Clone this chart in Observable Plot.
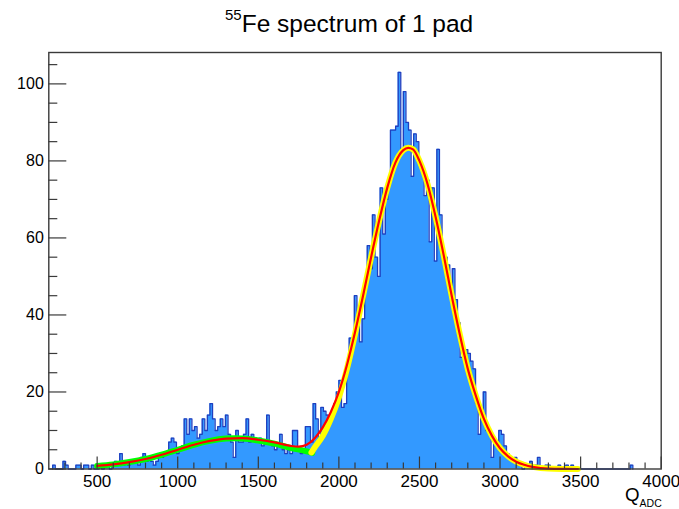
<!DOCTYPE html>
<html>
<head>
<meta charset="utf-8">
<script src="https://cdn.jsdelivr.net/npm/d3@7"></script>
<script src="https://cdn.jsdelivr.net/npm/@observablehq/plot@0.6"></script>
<style>
  html, body { margin: 0; padding: 0; background: #fff; }
  #chart { width: 679px; height: 509px; }
</style>
</head>
<body>
<div id="chart"></div>
<script>
// ---- Data ----
const titleMain = "Fe spectrum of 1 pad";
const titleSup = "55";
const xLabelMain = "Q";
const xLabelSub = "ADC";

// Histogram: bins of width 16 ADC counts, first bin starts at 224
const binWidth = 16;
const firstEdge = 224;
const counts = [
  1, 0, 0, 0, 2, 1, 0, 0, 0, 1, 1, 0, 1, 1, 0, 1, 0,          // 224 .. 480
  0, 1, 0, 1, 1, 0, 1, 2, 1, 4, 1, 2, 1, 2, 2, 2, 1, 3, 4, 2, 3, // 496 .. 816
  2, 1, 2, 3, 3, 4, 4, 7, 8, 7, 4, 5, 6,                        // 832 .. 1024
  13, 9, 13, 10, 11, 8, 9, 13, 10, 14, 17, 13, 10, 11, 13, 11, 14, 9, 7, 3, // 1040 .. 1344
  10, 7, 7, 9, 13, 7, 9, 8, 7, 8, 6, 7, 14, 7, 6, 5, 6, 9, 5, 4, // 1360 .. 1664
  5, 4, 10, 10, 5, 4, 5, 11, 11, 7, 17, 13, 8,                  // 1680 .. 1872
  16, 15, 14, 12, 15, 17, 20, 23, 16, 17, 27, 34, 34, 45, 40, 33, 39, 48, // 1888 .. 2160
  58, 52, 66, 55, 50, 73, 61, 70, 75, 88, 88, 89, 103, 83, 98, 90, 88, 76, // 2176 .. 2448
  87, 85, 80, 78, 71, 75, 59, 73, 54, 83, 66, 55, 55, 53, 47, 52, 44, 38, // 2464 .. 2736
  29, 31, 31, 30, 28, 26, 17, 9, 14, 20, 10, 10, 3, 7, 6, 10, 9, 6, // 2752 .. 3024
  4, 3, 2, 3, 1, 1, 0, 1, 1, 2, 0, 1, 3, 0, 0, 1, 1, 0, 0, 0, 1, 0, 0, 1, 0, 1, // 3040 .. 3440
  0, 0, 0, 0, 0, 0, 0, 0, 0, 0, 0, 0, 0, 0, 0, 0, 0, 0, 0, 0, 0, 0, // 3456 .. 3792
  1                                                             // 3808
];

// Fit curves
const greenQ = [500, 600, 700, 800, 900, 1000, 1100, 1200, 1300, 1350, 1400, 1500, 1600, 1700, 1800, 1835];
const greenV = [0.8, 1.2, 1.8, 2.6, 3.7, 5.0, 6.3, 7.3, 7.9, 8.0, 7.9, 7.4, 6.6, 5.5, 4.6, 4.2];

const yellowQ = [1830, 1850, 1900, 1950, 2000, 2050, 2100, 2150, 2200, 2250, 2300, 2350, 2400, 2430, 2460, 2500, 2550, 2600, 2650, 2700, 2750, 2800, 2850, 2900, 2950, 3000, 3050, 3100, 3150, 3200, 3250, 3300, 3400, 3483];
const yellowV = [4.3, 5.6, 8.6, 13.0, 18.6, 26.0, 35.0, 45.0, 55.0, 64.5, 73.0, 79.5, 82.8, 83.4, 83.0, 80.0, 74.0, 65.5, 55.6, 45.0, 35.0, 26.0, 19.0, 13.0, 8.6, 5.4, 3.3, 1.9, 1.1, 0.55, 0.25, 0.1, 0.02, 0];

const redQ = [500, 600, 700, 800, 900, 1000, 1100, 1200, 1300, 1400, 1500, 1600, 1700, 1750, 1800, 1850, 1900, 1950, 2000, 2050, 2100, 2150, 2200, 2250, 2300, 2350, 2400, 2430, 2460, 2500, 2550, 2600, 2650, 2700, 2750, 2800, 2850, 2900, 2950, 3000, 3050, 3100, 3150, 3200, 3250, 3300, 3400, 3483];
const redV = [0.8, 1.2, 1.8, 2.6, 3.7, 5.0, 6.3, 7.3, 7.9, 8.0, 7.6, 6.9, 6.0, 5.8, 6.3, 8.0, 10.8, 14.8, 20.0, 27.0, 35.5, 45.0, 55.0, 64.5, 73.0, 79.5, 82.8, 83.4, 83.0, 80.0, 74.0, 65.5, 55.6, 45.0, 35.0, 26.0, 19.0, 13.0, 8.6, 5.4, 3.3, 1.9, 1.1, 0.55, 0.25, 0.1, 0.02, 0];

// Axes
const xDomain = [200, 4000];
const yDomain = [0, 108.15];
const xTickLabels = [500, 1000, 1500, 2000, 2500, 3000, 3500, 4000];
const xMinor = [300, 400, 600, 700, 800, 900, 1100, 1200, 1300, 1400, 1600, 1700, 1800, 1900, 2100, 2200, 2300, 2400, 2600, 2700, 2800, 2900, 3100, 3200, 3300, 3400, 3600, 3700, 3800, 3900];
const yTickLabels = [0, 20, 40, 60, 80, 100];
const yMinor = [5, 10, 15, 25, 30, 35, 45, 50, 55, 65, 70, 75, 85, 90, 95, 105];

// ---- Build ----
const W = 679, H = 509;
const mL = 48.3, mR = 18.3, mT = 52, mB = 40.5;
const plotW = W - mL - mR, plotH = H - mT - mB;

const bins = counts.map((c, i) => ({x1: firstEdge + i * binWidth, x2: firstEdge + (i + 1) * binWidth, count: c}));
const outline = [{x: bins[0].x1, y: 0}]
  .concat(bins.flatMap(b => [{x: b.x1, y: b.count}, {x: b.x2, y: b.count}]))
  .concat([{x: bins[bins.length - 1].x2, y: 0}]);

const green = greenQ.map((q, i) => ({q, v: greenV[i]}));
const yellow = yellowQ.map((q, i) => ({q, v: yellowV[i]}));
const red = redQ.map((q, i) => ({q, v: redV[i]}));

const axisColor = "#3a3a3a";

const svg = Plot.plot({
  width: W,
  height: H,
  marginLeft: mL,
  marginRight: mR,
  marginTop: mT,
  marginBottom: mB,
  style: {fontFamily: "'Liberation Sans', Arial, Helvetica, sans-serif", background: "#fff", color: "#000"},
  x: {domain: xDomain, label: null},
  y: {domain: yDomain, label: null},
  marks: [
    Plot.area(outline, {x1: "x", y1: 0, y2: "y", fill: "#3399ff", curve: "linear"}),
    Plot.line(outline, {x: "x", y: "y", stroke: "#1f3fbf", strokeWidth: 1.3, curve: "linear"}),
    Plot.line(green, {x: "q", y: "v", stroke: "#00ff00", strokeWidth: 6, curve: "monotone-x"}),
    Plot.line(yellow, {x: "q", y: "v", stroke: "#ffff00", strokeWidth: 6, curve: "monotone-x"}),
    Plot.line(red, {x: "q", y: "v", stroke: "#ff0000", strokeWidth: 2.2, curve: "monotone-x"}),
    Plot.tickX(xTickLabels, {x: d => d, stroke: axisColor, strokeWidth: 1.2, insetTop: plotH - 12}),
    Plot.tickX(xMinor, {x: d => d, stroke: axisColor, strokeWidth: 1.2, insetTop: plotH - 6}),
    Plot.tickY(yTickLabels, {y: d => d, stroke: axisColor, strokeWidth: 1.2, insetRight: plotW - 18}),
    Plot.tickY(yMinor, {y: d => d, stroke: axisColor, strokeWidth: 1.2, insetRight: plotW - 9}),
    Plot.frame({stroke: axisColor, strokeWidth: 1.4}),
    Plot.axisX(xTickLabels, {tickSize: 0, tickPadding: 6, fontSize: 17, tickFormat: d => String(d), label: null}),
    Plot.axisY(yTickLabels, {tickSize: 0, tickPadding: 5, fontSize: 16, tickFormat: d => String(d), label: null})
  ]
});

const s = d3.select(svg);
const fam = "'Liberation Sans', Arial, Helvetica, sans-serif";
// Title
const t = s.append("text").attr("x", 225).attr("y", 31.7).attr("font-family", fam)
  .attr("fill", "#000").attr("text-anchor", "start");
t.append("tspan").attr("font-size", 15).attr("dy", -11.5).text(titleSup);
t.append("tspan").attr("font-size", 24.5).attr("dy", 11.5).text(titleMain);
// X axis title
const xl = s.append("text").attr("x", 625).attr("y", 500.7).attr("font-family", fam)
  .attr("fill", "#000").attr("text-anchor", "start");
xl.append("tspan").attr("font-size", 18.7).text(xLabelMain);
xl.append("tspan").attr("font-size", 10.5).attr("dy", 5.8).text(xLabelSub);

document.getElementById("chart").appendChild(svg);
</script>
</body>
</html>
